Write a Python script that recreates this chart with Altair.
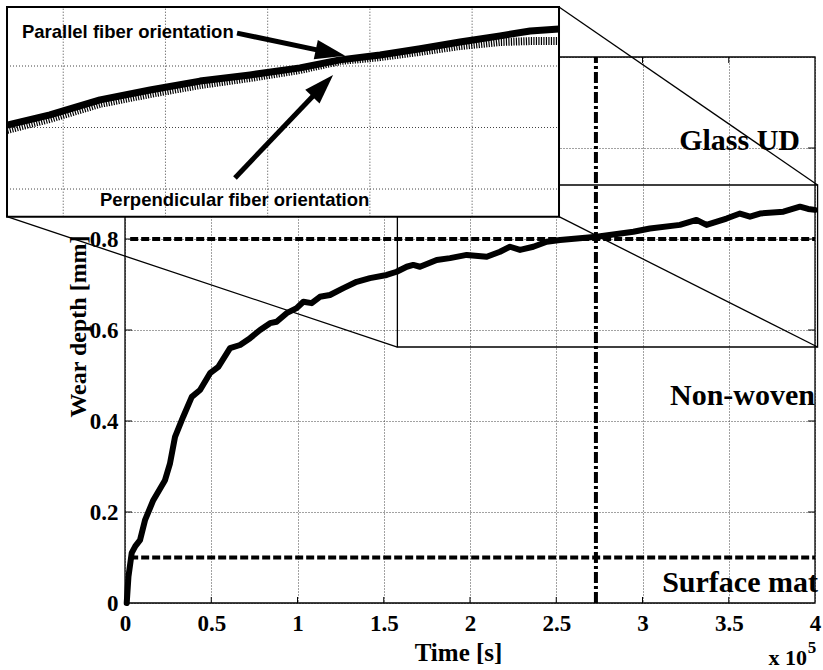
import math
import altair as alt
import pandas as pd

# ---------------- layout of the main plot area (pixels) ----------------
W, H = 690, 546
X_DOMAIN = [0.0, 4.0]
Y_DOMAIN = [0.0, 1.2]
X_TICKS = [0, 0.5, 1, 1.5, 2, 2.5, 3, 3.5, 4]
Y_TICKS = [0, 0.2, 0.4, 0.6, 0.8, 1.0, 1.2]

# ---------------- main curve: wear depth vs time (x 10^5 s) ----------------
time_s = [0.01, 0.02, 0.039, 0.06, 0.087, 0.116, 0.164, 0.232, 0.261, 0.29, 0.338,
          0.387, 0.435, 0.493, 0.541, 0.609, 0.667, 0.725, 0.783, 0.841, 0.879,
          0.937, 0.995, 1.034, 1.082, 1.13, 1.188, 1.266, 1.343, 1.42, 1.517,
          1.575, 1.633, 1.671, 1.71, 1.807, 1.884, 1.981, 2.097, 2.174, 2.232,
          2.29, 2.367, 2.445, 2.522, 2.734, 2.947, 3.043, 3.217, 3.313, 3.371,
          3.487, 3.565, 3.623, 3.681, 3.817, 3.913, 3.96, 4.0]
wear_mm = [0.0, 0.058, 0.11, 0.125, 0.138, 0.182, 0.226, 0.270, 0.307, 0.365, 0.41,
           0.453, 0.468, 0.505, 0.519, 0.56, 0.567, 0.582, 0.60, 0.615, 0.618,
           0.637, 0.648, 0.662, 0.659, 0.673, 0.677, 0.692, 0.706, 0.714, 0.721,
           0.728, 0.739, 0.743, 0.739, 0.754, 0.758, 0.765, 0.761, 0.772, 0.783,
           0.776, 0.783, 0.794, 0.798, 0.805, 0.816, 0.823, 0.831, 0.842, 0.831,
           0.845, 0.856, 0.849, 0.856, 0.86, 0.871, 0.866, 0.864]

# reference lines
LIMIT_LEVELS = [0.1, 0.8]
LIMIT_X = [0.03, 4.0]
CROSS_TIME = 2.73

# region labels
REGION_LABELS = ["Glass UD", "Non-woven", "Surface mat"]
REGION_LABEL_X = [3.913, 4.0, 4.017]
REGION_LABEL_Y = [0.995, 0.435, 0.024]

# zoom rectangle and inset box, both in main data units: x0, x1, y0, y1
ZOOM_RECT = [1.579, 4.015, 0.5626, 0.9187]
INSET_BOX = [-0.684, 2.516, 0.849, 1.310]

# ---------------- inset data ----------------
INSET_X_DOMAIN = [1.225, 3.925]
INSET_Y_DOMAIN = [0.751, 0.8192]
INSET_X_GRID = [1.5, 2.0, 2.5, 3.0, 3.5]
INSET_Y_GRID = [0.76, 0.78, 0.80]
inset_time = [1.225, 1.435, 1.680, 1.925, 2.169, 2.414, 2.658, 2.854, 3.050,
              3.246, 3.441, 3.637, 3.784, 3.925]
inset_parallel = [0.7808, 0.7841, 0.7890, 0.7922, 0.7951, 0.7971, 0.7994, 0.8020,
                  0.8036, 0.8056, 0.8078, 0.8098, 0.8114, 0.8120]
inset_perpendicular = [0.7792, 0.7828, 0.7877, 0.7909, 0.7938, 0.7961, 0.7987,
                       0.8016, 0.8029, 0.8046, 0.8065, 0.8078, 0.8081, 0.8081]

ARROW_LABELS = ["Parallel fiber orientation", "Perpendicular fiber orientation"]
ARROW_LABEL_X = [1.298, 1.680]
ARROW_LABEL_Y = [0.8091, 0.7545]
ARROW_START_X = [2.350, 2.340]
ARROW_START_Y = [0.8107, 0.7636]
ARROW_TIP_X = [2.879, 2.820]
ARROW_TIP_Y = [0.8033, 0.7971]

SERIF = "Liberation Serif"
SANS = "Liberation Sans"


# ---------------- scales ----------------
def px_x(v):
    return (v - X_DOMAIN[0]) / (X_DOMAIN[1] - X_DOMAIN[0]) * W


def px_y(v):
    return H - (v - Y_DOMAIN[0]) / (Y_DOMAIN[1] - Y_DOMAIN[0]) * H


xs = alt.Scale(domain=X_DOMAIN, nice=False, zero=False)
ys = alt.Scale(domain=Y_DOMAIN, nice=False, zero=False)

IX_RANGE = [px_x(INSET_BOX[0]), px_x(INSET_BOX[1])]
IY_RANGE = [px_y(INSET_BOX[2]), px_y(INSET_BOX[3])]
ixs = alt.Scale(domain=INSET_X_DOMAIN, range=IX_RANGE, nice=False, zero=False)
iys = alt.Scale(domain=INSET_Y_DOMAIN, range=IY_RANGE, nice=False, zero=False)


def ipx_x(v):
    return IX_RANGE[0] + (v - INSET_X_DOMAIN[0]) / (INSET_X_DOMAIN[1] - INSET_X_DOMAIN[0]) * (IX_RANGE[1] - IX_RANGE[0])


def ipx_y(v):
    return IY_RANGE[0] + (v - INSET_Y_DOMAIN[0]) / (INSET_Y_DOMAIN[1] - INSET_Y_DOMAIN[0]) * (IY_RANGE[1] - IY_RANGE[0])


x_axis = alt.Axis(values=X_TICKS, format="~g", title="Time [s]", grid=True,
                  gridDash=[1, 2], gridColor="#444", gridWidth=1, domain=False,
                  ticks=False, tickSize=0, labelPadding=9, labelFlush=False,
                  labelOverlap=False, labelFont=SERIF, labelFontWeight="bold",
                  labelFontSize=23, labelColor="black", titleFont=SERIF,
                  titleFontWeight="bold", titleFontSize=25, titleColor="black",
                  titleX=333, titleY=57, titleBaseline="alphabetic")
y_axis = alt.Axis(values=Y_TICKS, title="Wear depth [mm]", grid=True,
                  labelExpr="datum.value > 0.85 ? '' : format(datum.value, '~g')",
                  gridDash=[1, 2], gridColor="#444", gridWidth=1, domain=False,
                  ticks=False, tickSize=0, labelPadding=7, labelOverlap=False,
                  labelFont=SERIF, labelFontWeight="bold", labelFontSize=23,
                  labelColor="black", titleFont=SERIF, titleFontWeight="bold",
                  titleFontSize=24, titleColor="black", titleAngle=270,
                  titleX=-47, titleY=269, titleBaseline="middle", titleAlign="center")


def MX(f="x"):
    return alt.X(f"{f}:Q", scale=xs, axis=x_axis)


def MY(f="y"):
    return alt.Y(f"{f}:Q", scale=ys, axis=y_axis)


def IX(f="x"):
    return alt.X(f"{f}:Q", scale=ixs, axis=None)


def IY(f="y"):
    return alt.Y(f"{f}:Q", scale=iys, axis=None)


# ---------------- main layers ----------------
border = alt.Chart(pd.DataFrame({"x": [X_DOMAIN[0]], "x2": [X_DOMAIN[1]],
                                 "y": [Y_DOMAIN[0]], "y2": [Y_DOMAIN[1]]})).mark_rect(
    filled=False, stroke="black", strokeWidth=1.3).encode(
    x=MX(), x2="x2:Q", y=MY(), y2="y2:Q")

inner_x = [t for t in X_TICKS if X_DOMAIN[0] < t < X_DOMAIN[1]]
inner_y = [t for t in Y_TICKS if Y_DOMAIN[0] < t < Y_DOMAIN[1]]
ticks_bottom = alt.Chart(pd.DataFrame({"x": inner_x, "y": [Y_DOMAIN[0]] * len(inner_x)})).mark_rule(
    color="black", strokeWidth=1, y2Offset=-6).encode(x=MX(), y=MY(), y2="y:Q")
ticks_top = alt.Chart(pd.DataFrame({"x": inner_x, "y": [Y_DOMAIN[1]] * len(inner_x)})).mark_rule(
    color="black", strokeWidth=1, y2Offset=6).encode(x=MX(), y=MY(), y2="y:Q")
ticks_left = alt.Chart(pd.DataFrame({"y": inner_y, "x": [X_DOMAIN[0]] * len(inner_y)})).mark_rule(
    color="black", strokeWidth=1, x2Offset=7).encode(x=MX(), x2="x:Q", y=MY())
ticks_right = alt.Chart(pd.DataFrame({"y": inner_y, "x": [X_DOMAIN[1]] * len(inner_y)})).mark_rule(
    color="black", strokeWidth=1, x2Offset=-7).encode(x=MX(), x2="x:Q", y=MY())

limits = alt.Chart(pd.DataFrame({"y": LIMIT_LEVELS, "x": [LIMIT_X[0]] * 2,
                                 "x2": [LIMIT_X[1]] * 2})).mark_rule(
    color="black", strokeWidth=4, strokeDash=[8, 3]).encode(x=MX(), x2="x2:Q", y=MY())

cross = alt.Chart(pd.DataFrame({"x": [CROSS_TIME], "y": [Y_DOMAIN[0]], "y2": [Y_DOMAIN[1]]})).mark_rule(
    color="black", strokeWidth=4, strokeDash=[11, 3, 3, 3]).encode(x=MX(), y=MY(), y2="y2:Q")

curve = alt.Chart(pd.DataFrame({"x": time_s, "y": wear_mm})).mark_line(
    color="black", strokeWidth=6, strokeJoin="round", strokeCap="round").encode(
    x=MX(), y=MY(), order="x:Q")

zoom_rect = alt.Chart(pd.DataFrame({"x": [ZOOM_RECT[0]], "x2": [ZOOM_RECT[1]],
                                    "y": [ZOOM_RECT[2]], "y2": [ZOOM_RECT[3]]})).mark_rect(
    filled=False, stroke="black", strokeWidth=1.3).encode(x=MX(), x2="x2:Q", y=MY(), y2="y2:Q")

connectors = alt.Chart(pd.DataFrame({
    "x": [INSET_BOX[0], INSET_BOX[1], INSET_BOX[1]],
    "y": [INSET_BOX[2], INSET_BOX[2], INSET_BOX[3]],
    "x2": [ZOOM_RECT[0], ZOOM_RECT[1], ZOOM_RECT[1]],
    "y2": [ZOOM_RECT[2], ZOOM_RECT[2], ZOOM_RECT[3]],
})).mark_rule(color="black", strokeWidth=1.3).encode(x=MX(), x2="x2:Q", y=MY(), y2="y2:Q")

region_text = alt.Chart(pd.DataFrame({"x": REGION_LABEL_X, "y": REGION_LABEL_Y,
                                      "t": REGION_LABELS})).mark_text(
    align="right", baseline="alphabetic", font=SERIF, fontWeight="bold",
    fontSize=30, color="black").encode(x=MX(), y=MY(), text="t:N")

exp_base = alt.Chart(pd.DataFrame({"x": [3.954], "y": [-0.136], "t": ["x 10"]})).mark_text(
    align="right", baseline="alphabetic", font=SERIF, fontWeight="bold",
    fontSize=22, color="black").encode(x=MX(), y=MY(), text="t:N")
exp_pow = alt.Chart(pd.DataFrame({"x": [3.958], "y": [-0.110], "t": ["5"]})).mark_text(
    align="left", baseline="alphabetic", font=SERIF, fontWeight="bold",
    fontSize=17, color="black").encode(x=MX(), y=MY(), text="t:N")

main = alt.layer(border, limits, cross, curve, zoom_rect, connectors,
                 ticks_bottom, ticks_top, ticks_left, ticks_right,
                 region_text, exp_base, exp_pow)

# ---------------- inset layers ----------------
box_df = pd.DataFrame({"x": [INSET_X_DOMAIN[0]], "x2": [INSET_X_DOMAIN[1]],
                       "y": [INSET_Y_DOMAIN[0]], "y2": [INSET_Y_DOMAIN[1]]})
inset_bg = alt.Chart(box_df).mark_rect(fill="white", stroke=None).encode(
    x=IX(), x2="x2:Q", y=IY(), y2="y2:Q")
inset_vgrid = alt.Chart(pd.DataFrame({"x": INSET_X_GRID,
                                      "y": [INSET_Y_DOMAIN[0]] * len(INSET_X_GRID),
                                      "y2": [INSET_Y_DOMAIN[1]] * len(INSET_X_GRID)})).mark_rule(
    color="#444", strokeWidth=1, strokeDash=[1, 2]).encode(x=IX(), y=IY(), y2="y2:Q")
inset_hgrid = alt.Chart(pd.DataFrame({"y": INSET_Y_GRID,
                                      "x": [INSET_X_DOMAIN[0]] * len(INSET_Y_GRID),
                                      "x2": [INSET_X_DOMAIN[1]] * len(INSET_Y_GRID)})).mark_rule(
    color="#444", strokeWidth=1, strokeDash=[1, 2]).encode(x=IX(), x2="x2:Q", y=IY())

perp_line = alt.Chart(pd.DataFrame({"x": inset_time, "y": inset_perpendicular})).mark_line(
    color="black", strokeWidth=8, strokeDash=[1.2, 1.3], strokeCap="butt").encode(
    x=IX(), y=IY(), order="x:Q")
par_line = alt.Chart(pd.DataFrame({"x": inset_time, "y": inset_parallel})).mark_line(
    color="black", strokeWidth=7, strokeCap="butt", strokeJoin="round").encode(
    x=IX(), y=IY(), order="x:Q")

# arrows
HEAD_LEN = 30.0
shaft_end_x, shaft_end_y, angles = [], [], []
for sx, sy, tx, ty in zip(ARROW_START_X, ARROW_START_Y, ARROW_TIP_X, ARROW_TIP_Y):
    dx = ipx_x(tx) - ipx_x(sx)
    dy = ipx_y(ty) - ipx_y(sy)
    L = math.hypot(dx, dy)
    f = 1 - (HEAD_LEN * 0.6) / L
    shaft_end_x.append(sx + f * (tx - sx))
    shaft_end_y.append(sy + f * (ty - sy))
    angles.append(math.degrees(math.atan2(dx, -dy)) % 360)

shafts = alt.Chart(pd.DataFrame({"x": ARROW_START_X, "y": ARROW_START_Y,
                                 "x2": shaft_end_x, "y2": shaft_end_y})).mark_rule(
    color="black", strokeWidth=5, strokeCap="butt").encode(x=IX(), x2="x2:Q", y=IY(), y2="y2:Q")
heads = alt.Chart(pd.DataFrame({"x": ARROW_TIP_X, "y": ARROW_TIP_Y, "a": angles})).mark_point(
    shape="M0,0L0.33,1L-0.33,1Z", size=(2 * HEAD_LEN) ** 2, filled=True, opacity=1,
    color="black", strokeWidth=0).encode(x=IX(), y=IY(), angle=alt.Angle("a:Q", scale=None))

arrow_text = alt.Chart(pd.DataFrame({"x": ARROW_LABEL_X, "y": ARROW_LABEL_Y,
                                     "t": ARROW_LABELS})).mark_text(
    align="left", baseline="alphabetic", font=SANS, fontWeight="bold",
    fontSize=18.5, color="black").encode(x=IX(), y=IY(), text="t:N")

inset_border = alt.Chart(box_df).mark_rect(filled=False, stroke="black", strokeWidth=2).encode(
    x=IX(), x2="x2:Q", y=IY(), y2="y2:Q")

inset = alt.layer(inset_bg, inset_vgrid, inset_hgrid, perp_line, par_line,
                  shafts, heads, arrow_text, inset_border)

chart = alt.layer(main, inset).resolve_scale(x="independent", y="independent").properties(
    width=W, height=H,
    autosize=alt.AutoSizeParams(type="none"),
    padding={"left": 125, "top": 57, "right": 8, "bottom": 67},
    background="white",
).configure_view(stroke=None)

chart.save("out.html", embed_options={"renderer": "svg", "actions": False})
